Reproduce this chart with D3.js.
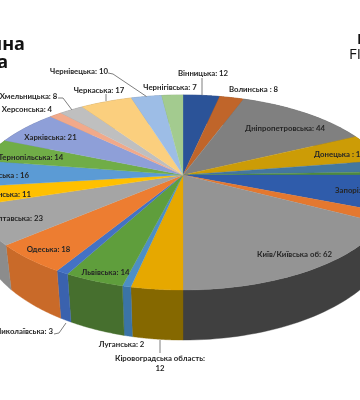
<!DOCTYPE html>
<html>
<head>
<meta charset="utf-8">
<script src="https://cdn.jsdelivr.net/npm/d3@7/dist/d3.min.js"></script>
<style>
  body { margin: 0; background: #fff; }
  svg { display: block; filter: blur(0.4px); }
</style>
</head>
<body>
<div id="container"></div>
<script>
let w = 360;
let h = 400;

// oblasts, clockwise from 12 o'clock
let regions = ["Вінницька","Волинська","Дніпропетровська","Донецька","Житомирська","Закарпатська","Запорізька","Івано-Франківська","Київ/Київська об","Кіровоградська","Луганська","Львівська","Миколаївська","Одеська","Полтавська","Рівненська","Сумська","Тернопільська","Харківська","Херсонська","Хмельницька","Черкаська","Чернівецька","Чернігівська"];
let counts = [12,8,44,17,7,2,22,6,62,12,2,14,3,18,23,11,16,14,21,4,8,17,10,7];

let topColors = ["#2b5398","#c0652a","#808080","#cc9c06","#44779f","#4f8a3f","#2f5cab","#e4782f","#949494","#e6a800","#4d8fc4","#5f9e3c","#4472c4","#ed7d31","#a5a5a5","#ffc000","#5b9bd5","#70ad47","#8e9fd8","#f1a98a","#bfbfbf","#fbcf7e","#9dbde6","#a3cb8f"];
let sideColors = ["#1f3c6e","#8c4a1f","#5c5c5c","#94710a","#315674","#39642e","#22437c","#a55722","#404040","#856800","#3b74a6","#466f2e","#3a62ae","#c96a29","#8c8c8c","#b98c00","#427199","#517e33","#67749d","#af7b64","#8b8b8b","#b6965c","#7289a7","#769468"];

// label text, then where it sits (separate from the data)
let labelTexts = ["Вінницька: 12","Чернігівська: 7","Волинська : 8","Чернівецька: 10","Черкаська: 17","Хмельницька: 8","Херсонська: 4","Харківська: 21","Тернопільська: 14","Сумська : 16","Рівненська: 11","Полтавська: 23","Одеська: 18","Львівська: 14","Миколаївська: 3","Луганська: 2","Кіровоградська область:","12","Київ/Київська об: 62","Дніпропетровська: 44","Донецька : 17","Запорізька: 22"];
let labelX = [203,170,253.5,79,99,28.5,27,50.5,31,29,31,43,48.5,105.5,53,121.5,160,160,294.5,285,314,335];
let labelY = [73,87,89,71,90,96,109,137,157,175,194,218,249,272,331,344,358,368,254,128,154,190];
let labelAnchor = ["middle","middle","middle","middle","middle","middle","middle","middle","middle","end","end","end","middle","middle","end","middle","middle","middle","middle","middle","start","start"];

let leaderLines = [
  [[202,78],[202,95]],
  [[108,73],[113,74],[146.5,96.5]],
  [[106,94],[106,101]],
  [[58,98],[63,98],[72,110]],
  [[54,334],[59,333],[66,323]],
  [[160,340],[160,353]]
];

let viz = d3.select("#container").append("svg")
    .attr("width", w)
    .attr("height", h)
    .attr("viewBox", "0 0 "+w+" "+h)
    .style("overflow", "hidden")
;

// the pie is a circle seen in perspective, the hub is not the middle of the ellipse
let hubX = 183;
let hubY = 175;
let radX = 207;
let radY = 94.4;
let persp = 0.1795;
let frontDepth = 50;
let frontScale = 1/(1-persp);

function rim(a){
  let s = 1/(1 + persp*Math.cos(a));
  return [hubX + radX*Math.sin(a)*s, hubY - radY*Math.cos(a)*s];
}
function rimBottom(a){
  let s = 1/(1 + persp*Math.cos(a));
  let p = rim(a);
  // wall shrinks away from the front, the left side a little more
  let dx = p[0] - hubX;
  let x = hubX + (dx < 0 ? dx*0.97 : dx);
  return [x, p[1] + frontDepth*Math.pow(s/frontScale, 1.6)];
}
function anglesBetween(d){
  return d3.range(0, 41).map(i=> d.startAngle + (d.endAngle-d.startAngle)*i/40);
}

let pie = d3.pie().sort(null).value(d=>d.value);
let data = regions.map((r,i)=>({region:r, value:counts[i], top:topColors[i], side:sideColors[i]}));
let arcs = pie(data);
let line = d3.line();

let sideGroup = viz.append("g").attr("class", "sidegroup");
sideGroup.selectAll("path").data(arcs).enter()
  .append("path")
    .attr("fill", d=>d.data.side)
    .attr("stroke", d=>d.data.side)
    .attr("stroke-width", 0.4)
    .attr("d", function(d){
      let as = anglesBetween(d);
      return line(as.map(rim).concat(as.slice().reverse().map(rimBottom))) + "Z";
    })
;

let topGroup = viz.append("g").attr("class", "topgroup");
topGroup.selectAll("path").data(arcs).enter()
  .append("path")
    .attr("fill", d=>d.data.top)
    .attr("stroke", d=>d.data.top)
    .attr("stroke-width", 0.3)
    .attr("d", function(d){
      return line([[hubX,hubY]].concat(anglesBetween(d).map(rim))) + "Z";
    })
;

viz.append("g").selectAll("path").data(leaderLines).enter()
  .append("path")
    .attr("d", d=>line(d))
    .attr("fill", "none")
    .attr("stroke", "#7f7f7f")
    .attr("stroke-width", 1)
;

viz.append("g").selectAll("text").data(labelTexts).enter()
  .append("text")
    .text(d=>d)
    .attr("x", (d,i)=>labelX[i])
    .attr("y", (d,i)=>labelY[i])
    .attr("dy", "0.35em")
    .attr("text-anchor", (d,i)=>labelAnchor[i])
    .attr("font-family", "Lato, sans-serif")
    .attr("font-weight", 700)
    .attr("font-size", 7.8)
    .attr("fill", "#262626")
;

// slide title and logo, both cut by the edge of the picture
viz.append("text").text("нна").attr("x", 25).attr("y", 50)
    .attr("text-anchor", "end")
    .attr("font-family", "'Open Sans', sans-serif").attr("font-weight", 700).attr("font-size", 18).attr("fill", "#111");
viz.append("text").text("а").attr("x", 8).attr("y", 68)
    .attr("text-anchor", "end")
    .attr("font-family", "'Open Sans', sans-serif").attr("font-weight", 700).attr("font-size", 18).attr("fill", "#111");
viz.append("text").text("Е").attr("x", 357).attr("y", 44)
    .attr("font-family", "'Open Sans', sans-serif").attr("font-weight", 700).attr("font-size", 15).attr("fill", "#111");
viz.append("text").text("FI").attr("x", 349).attr("y", 59)
    .attr("font-family", "'Open Sans', sans-serif").attr("font-size", 15).attr("fill", "#111");
</script>
</body>
</html>
